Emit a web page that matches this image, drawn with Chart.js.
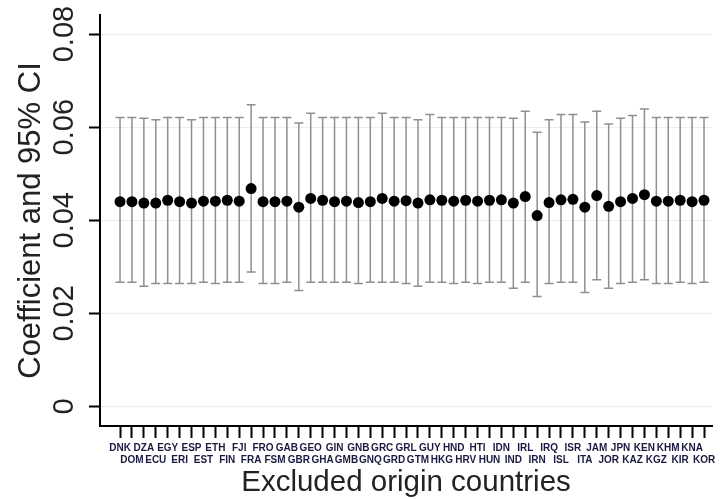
<!DOCTYPE html>
<html>
<head>
<meta charset="utf-8">
<script src="https://cdn.jsdelivr.net/npm/chart.js@4.4.0/dist/chart.umd.min.js"></script>
<style>
  html, body { margin: 0; padding: 0; background: #fff; }
</style>
</head>
<body>
<canvas id="myChart" width="720" height="499"></canvas>
<script>
const countries = [
  "DNK", "DOM", "DZA", "ECU", "EGY", "ERI", "ESP", "EST", "ETH", "FIN",
  "FJI", "FRA", "FRO", "FSM", "GAB", "GBR", "GEO", "GHA", "GIN", "GMB",
  "GNB", "GNQ", "GRC", "GRD", "GRL", "GTM", "GUY", "HKG", "HND", "HRV",
  "HTI", "HUN", "IDN", "IND", "IRL", "IRN", "IRQ", "ISL", "ISR", "ITA",
  "JAM", "JOR", "JPN", "KAZ", "KEN", "KGZ", "KHM", "KIR", "KNA", "KOR",
];

const coef = [
  0.0440, 0.0440, 0.0437, 0.0437, 0.0443, 0.0440, 0.0437, 0.0441, 0.0441, 0.0443,
  0.0441, 0.0468, 0.0440, 0.0440, 0.0441, 0.0428, 0.0447, 0.0443, 0.0440, 0.0441,
  0.0438, 0.0440, 0.0447, 0.0441, 0.0442, 0.0437, 0.0444, 0.0443, 0.0441, 0.0443,
  0.0441, 0.0443, 0.0444, 0.0437, 0.0451, 0.0410, 0.0438, 0.0444, 0.0445, 0.0428,
  0.0453, 0.0430, 0.0440, 0.0447, 0.0455, 0.0441, 0.0441, 0.0443, 0.0440, 0.0443,
];

const ciHigh = [
  0.0621, 0.0621, 0.0619, 0.0616, 0.0621, 0.0621, 0.0616, 0.0621, 0.0621, 0.0621,
  0.0621, 0.0648, 0.0621, 0.0621, 0.0621, 0.0609, 0.0630, 0.0621, 0.0621, 0.0621,
  0.0621, 0.0621, 0.0630, 0.0621, 0.0621, 0.0616, 0.0627, 0.0621, 0.0621, 0.0621,
  0.0621, 0.0621, 0.0621, 0.0619, 0.0634, 0.0589, 0.0616, 0.0627, 0.0627, 0.0611,
  0.0634, 0.0607, 0.0619, 0.0625, 0.0639, 0.0621, 0.0621, 0.0621, 0.0621, 0.0621,
];

const ciLow = [
  0.0267, 0.0267, 0.0258, 0.0264, 0.0264, 0.0264, 0.0264, 0.0267, 0.0264, 0.0267,
  0.0267, 0.0289, 0.0264, 0.0264, 0.0267, 0.0249, 0.0267, 0.0267, 0.0267, 0.0267,
  0.0264, 0.0267, 0.0267, 0.0267, 0.0264, 0.0258, 0.0267, 0.0267, 0.0264, 0.0267,
  0.0264, 0.0267, 0.0267, 0.0254, 0.0267, 0.0236, 0.0264, 0.0267, 0.0267, 0.0245,
  0.0272, 0.0254, 0.0264, 0.0267, 0.0272, 0.0264, 0.0264, 0.0267, 0.0264, 0.0267,
];

const yTicks = [0, 0.02, 0.04, 0.06, 0.08];
const yTickLabels = ["0", "0.02", "0.04", "0.06", "0.08"];

const fontFamily = "'Liberation Sans', Arial, sans-serif";

// whiskers for the confidence intervals, drawn under the points
const ciPlugin = {
  id: "ciBars",
  beforeDatasetsDraw: (chart) => {
    const { ctx } = chart;
    const x = chart.scales.x;
    const y = chart.scales.y;
    ctx.save();
    ctx.strokeStyle = "#8f8f8f";
    ctx.lineWidth = 1.5;
    coef.forEach((c, i) => {
      const px = x.getPixelForValue(i);
      const top = y.getPixelForValue(ciHigh[i]);
      const bot = y.getPixelForValue(ciLow[i]);
      ctx.beginPath();
      ctx.moveTo(px, top);
      ctx.lineTo(px, bot);
      ctx.moveTo(px - 4.5, top);
      ctx.lineTo(px + 4.5, top);
      ctx.moveTo(px - 4.5, bot);
      ctx.lineTo(px + 4.5, bot);
      ctx.stroke();
    });
    ctx.restore();
  },
};

// rotated y tick labels
const yLabelPlugin = {
  id: "yLabels",
  afterDraw: (chart) => {
    const { ctx } = chart;
    const y = chart.scales.y;
    ctx.save();
    ctx.fillStyle = "#222";
    ctx.font = "29px " + fontFamily;
    ctx.textAlign = "center";
    ctx.textBaseline = "middle";
    yTicks.forEach((v, i) => {
      ctx.save();
      ctx.translate(65, y.getPixelForValue(v));
      ctx.rotate(-Math.PI / 2);
      ctx.fillText(yTickLabels[i], 0, 0);
      ctx.restore();
    });
    ctx.restore();
  },
};

const bgPlugin = {
  id: "bg",
  beforeDraw: (chart) => {
    const { ctx } = chart;
    ctx.save();
    ctx.fillStyle = "#fff";
    ctx.fillRect(0, 0, chart.width, chart.height);
    ctx.restore();
  },
};

new Chart(document.getElementById("myChart"), {
  type: "scatter",
  data: {
    datasets: [
      {
        data: coef.map((c, i) => ({ x: i, y: c })),
        backgroundColor: "#000",
        borderWidth: 0,
        pointRadius: 5.5,
        pointHoverRadius: 5.5,
      },
    ],
  },
  options: {
    responsive: false,
    animation: false,
    layout: { padding: { top: 15, right: 8, left: 0, bottom: 0 } },
    plugins: {
      legend: { display: false },
      tooltip: { enabled: false },
    },
    scales: {
      x: {
        type: "linear",
        min: -1.68,
        max: 49.67,
        afterBuildTicks: (scale) => {
          scale.ticks = countries.map((c, i) => ({ value: i }));
        },
        afterFit: (scale) => {
          scale.height = 73;
        },
        border: { color: "#000", width: 2 },
        grid: {
          drawOnChartArea: false,
          tickLength: 12,
          tickColor: "#000",
          tickWidth: 2,
        },
        ticks: {
          autoSkip: false,
          maxRotation: 0,
          minRotation: 0,
          padding: 4,
          color: "#1a1a40",
          font: { family: fontFamily, size: 10, weight: "bold", lineHeight: 1.2 },
          callback: (value) => {
            const i = Math.round(value);
            if (i < 0 || i >= countries.length) return "";
            return i % 2 === 0 ? countries[i] : ["", countries[i]];
          },
        },
        title: {
          display: true,
          text: "Excluded origin countries",
          color: "#222",
          font: { family: fontFamily, size: 29.5, lineHeight: 1 },
          padding: { top: 0, bottom: 1.5 },
        },
      },
      y: {
        min: -0.0042,
        max: 0.0841,
        afterBuildTicks: (scale) => {
          scale.ticks = yTicks.map((v) => ({ value: v }));
        },
        afterFit: (scale) => {
          scale.width = 100;
        },
        border: { color: "#000", width: 2 },
        grid: {
          color: "#e6eff1",
          lineWidth: 1,
          tickLength: 11,
          tickColor: "#000",
          tickWidth: 2,
        },
        ticks: { display: false },
        title: {
          display: true,
          text: "Coefficient and 95% CI",
          color: "#222",
          font: { family: fontFamily, size: 31, lineHeight: 1 },
          padding: { top: 16, bottom: 0 },
        },
      },
    },
  },
  plugins: [bgPlugin, ciPlugin, yLabelPlugin],
});
</script>
</body>
</html>
